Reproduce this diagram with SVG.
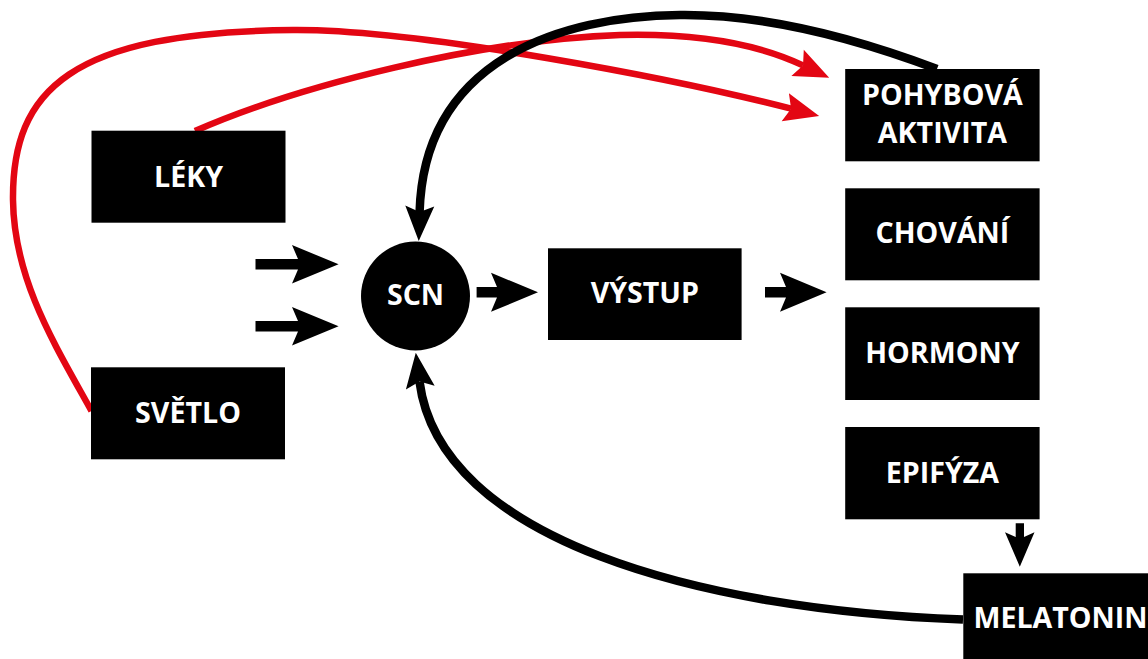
<svg xmlns="http://www.w3.org/2000/svg" width="1148" height="659" viewBox="0 0 1148 659">
  <style>
    .box { fill: #000; }
    .lbl { fill: #fff; font-family: "Open Sans", "Noto Sans", "Liberation Sans", sans-serif; font-weight: 700; font-size: 28.6px; text-anchor: middle; }
    .blk { fill: none; stroke: #000; stroke-width: 8.5; }
    .red { fill: none; stroke: #e30613; stroke-width: 6.5; }
    .barrow { fill: #000; }
  </style>
  <defs>
    <marker id="headB" markerUnits="userSpaceOnUse" orient="auto" markerWidth="40" markerHeight="32" viewBox="0 0 40 32" refX="6" refY="16" overflow="visible">
      <path d="M0,1.5 L35,16 L0,30.5 L6,16 Z" fill="#000"/>
    </marker>
    <marker id="headR" markerUnits="userSpaceOnUse" orient="auto" markerWidth="40" markerHeight="32" viewBox="0 0 40 32" refX="6" refY="16" overflow="visible">
      <path d="M0,1.5 L35,16 L0,30.5 L6,16 Z" fill="#e30613"/>
    </marker>
  </defs>
  <rect width="1148" height="659" fill="#fff"/>

  <g id="connectors">
    <path class="red" d="M91.5,411 C55,345 14,280 13,200 C12,90 70,32 293,30 C420,29 680,80 791.1,108.7" marker-end="url(#headR)"/>
    <path class="red" d="M195,131 C300,85 480,40 620,35 C700,33 760,45 803,65.4" marker-end="url(#headR)"/>
    <path class="blk" d="M937,69 C860,40 770,14 680,15 C560,16 424,60 419.6,212" marker-end="url(#headB)"/>
    <path class="blk" d="M963,619.5 C700,610 440,540 419.5,381.6" marker-end="url(#headB)"/>
    <path class="barrow" d="M255.5,259 H298 L292,245 L338.6,264.3 L292,283.6 L298,269.6 H255.5 Z"/>
    <path class="barrow" d="M255.5,321 H298 L292,307 L338.6,326.3 L292,345.6 L298,331.6 H255.5 Z"/>
    <path class="barrow" d="M476.6,287 H497 L491,272.8 L538,292.3 L491,311.8 L497,297.6 H476.6 Z"/>
    <path class="barrow" d="M765,287 H786 L780,272.8 L826.6,292.3 L780,311.8 L786,297.6 H765 Z"/>
    <path class="barrow" d="M1015.7,523.3 H1024 V537 L1034.5,532.3 L1019.8,566.7 L1005,532.3 L1015.7,537 Z"/>
  </g>

  <g id="leky">
    <rect class="box" x="91.5" y="130.7" width="194" height="92"/>
    <text class="lbl" x="188.5" y="186.7">LÉKY</text>
  </g>
  <g id="svetlo">
    <rect class="box" x="91" y="367.3" width="194" height="92"/>
    <text class="lbl" x="188" y="422.7">SVĚTLO</text>
  </g>
  <g id="scn">
    <circle class="box" cx="415.5" cy="296" r="54.5"/>
    <text class="lbl" x="415.5" y="305">SCN</text>
  </g>
  <g id="vystup">
    <rect class="box" x="548" y="248.3" width="193.6" height="91.7"/>
    <text class="lbl" x="644.8" y="303.3">VÝSTUP</text>
  </g>
  <g id="pohybova">
    <rect class="box" x="845.2" y="69" width="194.4" height="92.3"/>
    <text class="lbl" x="942.4" y="105">POHYBOVÁ</text>
    <text class="lbl" x="942.4" y="143.3">AKTIVITA</text>
  </g>
  <g id="chovani">
    <rect class="box" x="845.2" y="188.3" width="194.4" height="92"/>
    <text class="lbl" x="942.4" y="243.3">CHOVÁNÍ</text>
  </g>
  <g id="hormony">
    <rect class="box" x="845.2" y="307.3" width="194.4" height="92.7"/>
    <text class="lbl" x="942.4" y="363.3">HORMONY</text>
  </g>
  <g id="epifyza">
    <rect class="box" x="845.2" y="427" width="194.4" height="92.3"/>
    <text class="lbl" x="942.4" y="482.7">EPIFÝZA</text>
  </g>
  <g id="melatonin">
    <rect class="box" x="963.3" y="573.3" width="194.4" height="92"/>
    <text class="lbl" x="1060.5" y="627.7">MELATONIN</text>
  </g>
</svg>
